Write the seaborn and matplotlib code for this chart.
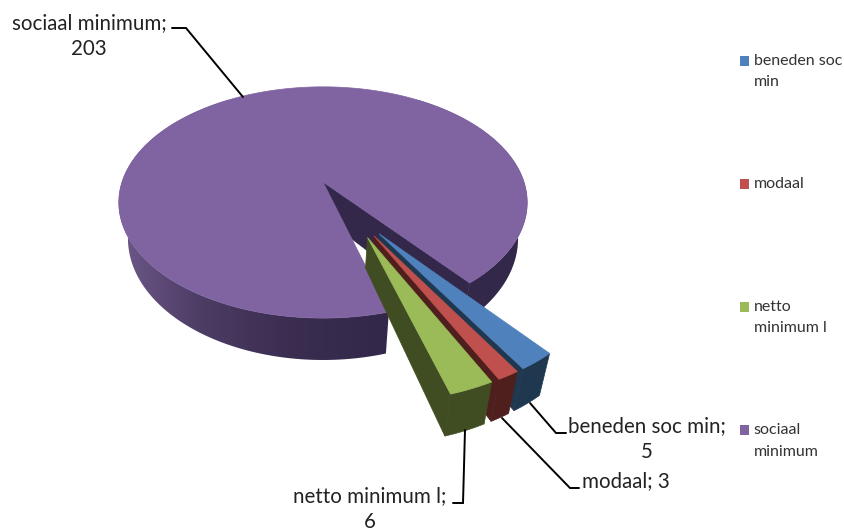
import numpy as np
import matplotlib
matplotlib.use("Agg")
import matplotlib.pyplot as plt
from matplotlib.colors import ListedColormap
from matplotlib.patches import Patch, Rectangle, Polygon
from matplotlib.legend_handler import HandlerPatch
import seaborn as sns

# --- data ---
categories = ["beneden soc min", "modaal", "netto minimum l", "sociaal minimum"]
values = [5, 3, 6, 203]
legend_labels = ["beneden soc\nmin", "modaal\n ", "netto\nminimum l", "sociaal\nminimum"]

# --- styles ---
top_colors = ["#4F81BD", "#C0504D", "#9BBB59", "#8064A2"]
wall_colors = ["#1F3850", "#4F1F1E", "#404D22", "#33284A"]
label_texts = ["beneden soc min;\n5", "modaal; 3", "netto minimum l;\n6", "sociaal minimum;\n203"]
label_xy = [(647, 439), (626, 481), (370, 509), (89, 36)]
leaders = [
    [(530, 403), (556, 433), (566, 433)],
    [(502, 418), (570, 488), (579, 488)],
    [(465, 430), (463, 503), (453, 503)],
    [(243, 97), (186, 28), (172, 28)],
]

sns.set_theme(style="white")
plt.rcParams["font.family"] = ["Lato", "DejaVu Sans"]

fig, ax = plt.subplots(figsize=(8.45, 5.3), dpi=100)
fig.subplots_adjust(0, 0, 1, 1)
ax.axis("off")

# camera model for the tilted pie
CX, CY, RX, RY, K = 323.0, 182.0, 201.0, 112.0, 0.177
START, EXPLODE = 51.0, 0.25


def project(u, v):
    w = 1 - K * v
    return CX + RX * u / w, CY + RY * v / w


def drop(x, y, large):
    """Lower rim point belonging to an upper rim point."""
    if large:
        inc = 36 + (y - 200) * 0.05
    else:
        inc = np.clip(30 + (y - 235) * 0.16, 22, 42)
    return CX + 0.955 * (x - CX), y + inc


def fill(xs, ys, color, z):
    ax.fill(xs, ys, facecolor=color, edgecolor=color, lw=0.5, zorder=z)


sweeps = np.array(values) / np.sum(values) * 360
starts = START + np.concatenate([[0], np.cumsum(sweeps)[:-1]])
mids = starts + sweeps / 2
direction = lambda a: np.array([np.cos(np.radians(a)), np.sin(np.radians(a))])
origin = -EXPLODE * direction(mids[-1])

shades = ListedColormap(sns.blend_palette(["#33284A", "#3A2D50", "#4A3B62", "#6E5889"], 256))

draw_order = [3, 0, 1, 2]
for rank, i in enumerate(draw_order):
    z = 10 * (rank + 1)
    large = i == 3
    a0, a1 = starts[i], starts[i] + sweeps[i]
    apex = origin + EXPLODE * direction(mids[i])
    ang = np.linspace(a0, a1, max(int(sweeps[i] * 2), 12))
    u = apex[0] + np.cos(np.radians(ang))
    v = apex[1] + np.sin(np.radians(ang))
    x, y = project(u, v)
    ax_, ay_ = project(apex[0], apex[1])
    bx, by = drop(x, y, large)
    bax, bay = drop(ax_, ay_, large)

    # the cut wall on the end side of the slice
    fill([ax_, x[-1], bx[-1], bax], [ay_, y[-1], by[-1], bay], wall_colors[i], z)
    if large:
        # outer wall with a horizontal gradient, light on the left
        gradient = np.clip((383 - np.linspace(100, 540, 512)) / 265, 0, 1)[None, :]
        im = ax.imshow(gradient, cmap=shades, vmin=0, vmax=1, extent=(100, 540, 400, 100),
                       aspect="auto", zorder=z + 1, interpolation="bilinear")
        clip = Polygon(np.c_[np.r_[x, bx[::-1]], np.r_[y, by[::-1]]], closed=True,
                       transform=ax.transData, facecolor="none", edgecolor="none")
        ax.add_patch(clip)
        im.set_clip_path(clip)
    else:
        fill(np.r_[x, bx[::-1]], np.r_[y, by[::-1]], wall_colors[i], z + 1)
    # top face
    fill(np.r_[ax_, x], np.r_[ay_, y], top_colors[i], z + 2)

ax.set_xlim(0, 845)
ax.set_ylim(530, 0)

# data labels with leader lines
for txt, (lx, ly), pts in zip(label_texts, label_xy, leaders):
    ax.text(lx, ly, txt, ha="center", va="center", fontsize=14.8, color="#222222",
            linespacing=1.33, zorder=60)
    p = np.array(pts)
    ax.plot(p[:, 0], p[:, 1], color="black", lw=1.4, zorder=55, solid_joinstyle="miter")


# legend: the square sits next to the first line of its label
def first_line_square(legend, orig_handle, xdescent, ydescent, width, height, fontsize):
    return Rectangle((-xdescent, -ydescent + 7.7), width, height)


handles = [Patch(facecolor=c, edgecolor="none") for c in top_colors]
leg = ax.legend(handles, legend_labels, loc="upper left", bbox_to_anchor=(740 / 845, 1 - 54 / 530),
                bbox_transform=ax.transAxes, frameon=False, fontsize=11.5, labelspacing=5.5,
                handlelength=0.56, handleheight=0.56, handletextpad=0.31, borderpad=0, borderaxespad=0,
                handler_map={Patch: HandlerPatch(patch_func=first_line_square)})
for t in leg.get_texts():
    t.set_color("#333333")
    t.set_linespacing(1.66)

fig.savefig("out.png", dpi=100)
